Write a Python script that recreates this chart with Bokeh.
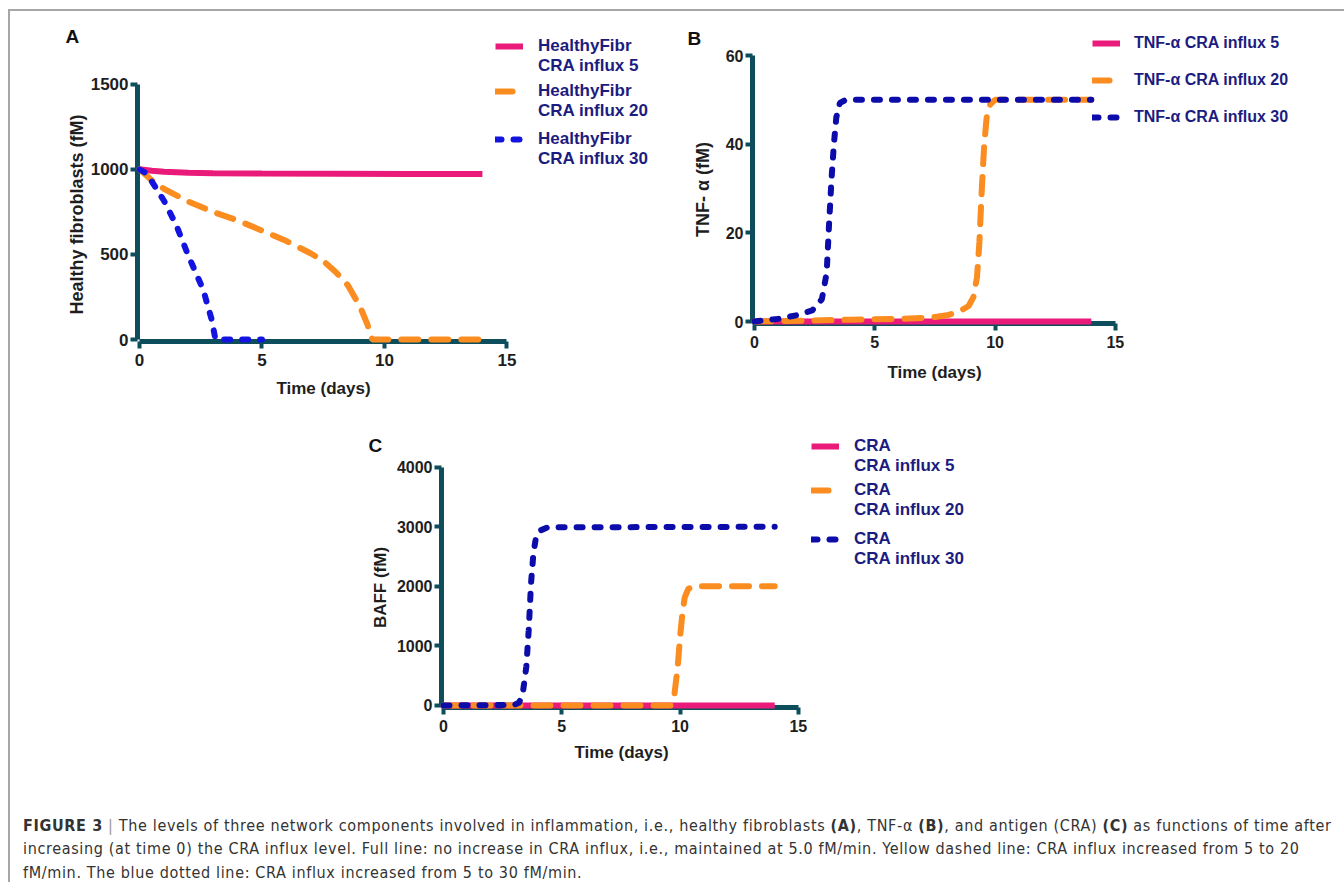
import math
from bokeh.plotting import figure
from bokeh.models import Legend, LegendItem, Label, Div, Spacer, FixedTicker, Range1d
from bokeh.layouts import column, row
from bokeh.embed import file_html
from bokeh.resources import INLINE

# ---------------- data ----------------
x_ticks = [0, 5, 10, 15]
x_label = "Time (days)"

# Panel A: healthy fibroblasts (fM)
a_t_5 = [0, 0.5, 1, 2, 3, 5, 8, 11, 14]
a_v_5 = [1000, 992, 986, 980, 977, 975, 974, 973, 973]
a_t_20 = [0, 0.5, 1, 2, 3, 4, 5, 6, 7, 7.5, 8, 8.5, 9, 9.3, 9.5, 10, 14]
a_v_20 = [1000, 935, 885, 810, 750, 700, 640, 578, 505, 462, 398, 320, 195, 90, 0, 0, 0]
a_t_30 = [0, 0.3, 1, 1.5, 2, 2.6, 2.95, 3.1, 5]
a_v_30 = [1000, 975, 815, 672, 490, 293, 115, 0, 0]
a_y_ticks = [0, 500, 1000, 1500]
a_y_label = "Healthy fibroblasts (fM)"
a_labels = ["HealthyFibr\nCRA influx 5", "HealthyFibr\nCRA influx 20", "HealthyFibr\nCRA influx 30"]

# Panel B: TNF-alpha (fM)
b_t_5 = [0, 14]
b_v_5 = [0, 0]
b_t_20 = [0, 2, 4, 6, 7, 7.5, 8, 8.5, 8.9, 9.1, 9.25, 9.35, 9.45, 9.55, 9.65, 9.8, 10, 14]
b_v_20 = [0, 0.2, 0.4, 0.6, 0.8, 1.0, 1.4, 2.2, 3.5, 5.5, 10, 18, 30, 40, 46, 49, 50, 50]
b_t_30 = [0, 1, 1.75, 2.4, 2.8, 3.0, 3.1, 3.2, 3.3, 3.4, 3.55, 3.8, 14]
b_v_30 = [0, 0.6, 1.4, 2.5, 5, 11, 22, 32, 40, 46, 49.3, 50, 50]
b_y_ticks = [0, 20, 40, 60]
b_y_label = "TNF- \u03b1 (fM)"
b_labels = ["TNF-\u03b1 CRA influx 5", "TNF-\u03b1 CRA influx 20", "TNF-\u03b1 CRA influx 30"]

# Panel C: BAFF (fM)
c_t_5 = [0, 14]
c_v_5 = [0, 0]
c_t_20 = [0, 9.6, 9.75, 9.9, 10.0, 10.1, 10.2, 10.35, 10.6, 14]
c_v_20 = [0, 0, 150, 650, 1150, 1550, 1820, 1960, 2000, 2000]
c_t_30 = [0, 3.0, 3.2, 3.35, 3.5, 3.6, 3.7, 3.8, 3.9, 4.05, 4.4, 14]
c_v_30 = [0, 10, 50, 200, 650, 1250, 2050, 2550, 2800, 2930, 2990, 3000]
c_y_ticks = [0, 1000, 2000, 3000, 4000]
c_y_label = "BAFF (fM)"
c_labels = ["CRA\nCRA influx 5", "CRA\nCRA influx 20", "CRA\nCRA influx 30"]

# ---------------- style ----------------
AX = "#0e4e5c"
PINK = "#ea1a7b"
ORANGE = "#fb8c1f"
BLUE_A = "#1414e0"
BLUE_BC = "#0c0cab"
NAVY = "#1c1c80"
TXT = "#1e1e1e"
FONT = "Liberation Sans"


def legend_kw(size, standoff):
    return dict(glyph_width=28, glyph_height=20, label_standoff=standoff, padding=0, margin=0,
                border_line_color=None, background_fill_alpha=0, label_text_font=FONT,
                label_text_font_style="bold", label_text_font_size=size,
                label_text_color=NAVY, label_text_line_height=1.2)


def make_panel(series, blue, origin, xr, yr, y_max, y_ticks, y_label, fw, fh, mb, legend_labels,
               legend_locs, legend_spacing, legend_size, legend_standoff, letter, text_pos,
               tick_size, xlabel_size, ylabel_size):
    p = figure(frame_width=fw, frame_height=fh,
               x_range=Range1d(*xr), y_range=Range1d(*yr),
               min_border_left=mb[0], min_border_right=mb[1],
               min_border_top=mb[2], min_border_bottom=mb[3],
               output_backend="svg", toolbar_location=None)
    p.outline_line_color = None
    p.grid.visible = False

    # page pixel -> data helpers (for placing the text annotations)
    sx = fw / (xr[1] - xr[0])
    sy = fh / (yr[1] - yr[0])
    fl = origin[0] + mb[0]
    fb = origin[1] + mb[2] + fh

    def dx(px):
        return xr[0] + (px - fl) / sx

    def dy(py):
        return yr[0] + (fb - py) / sy

    p.xaxis.bounds = (0, 15)
    p.yaxis.bounds = (0, y_max)
    p.xaxis.ticker = FixedTicker(ticks=x_ticks)
    p.yaxis.ticker = FixedTicker(ticks=y_ticks)
    for ax in (p.xaxis[0], p.yaxis[0]):
        ax.axis_line_color = AX
        ax.axis_line_width = 5
        ax.major_tick_line_color = AX
        ax.major_tick_line_width = 4
        ax.major_tick_out = 7
        ax.major_tick_in = 0
        ax.minor_tick_line_color = None
        ax.major_label_text_font = FONT
        ax.major_label_text_font_style = "bold"
        ax.major_label_text_font_size = tick_size
        ax.major_label_text_color = TXT
    p.xaxis.major_label_standoff = 5
    p.yaxis.major_label_standoff = 2

    (t5, v5), (t20, v20), (t30, v30) = series
    r5 = p.line(t5, v5, line_color=PINK, line_width=6)
    r20 = p.line(t20, v20, line_color=ORANGE, line_width=6, line_dash="17 13", line_cap="round")
    r30 = p.line(t30, v30, line_color=blue, line_width=6, line_dash="6 12", line_cap="round")
    rends = [r5, r20, r30]
    for r in rends:
        r.level = "overlay"

    if isinstance(legend_locs, list):
        # one legend per entry; two-line labels get an empty leading line so that the
        # glyph sits beside the first text line, as in the reference
        for lab, r, loc in zip(legend_labels, rends, legend_locs):
            p.add_layout(Legend(items=[LegendItem(label="\n" + lab, renderers=[r])],
                                location=loc, **legend_kw(legend_size, legend_standoff)))
    else:
        p.add_layout(Legend(items=[LegendItem(label=lab, renderers=[r])
                                   for lab, r in zip(legend_labels, rends)],
                            location=legend_locs, spacing=legend_spacing,
                            **legend_kw(legend_size, legend_standoff)))

    (lx, ly), (xlx, xly), (ylx, yly) = text_pos
    p.add_layout(Label(x=dx(lx), y=dy(ly), text=letter, text_font=FONT, text_font_style="bold",
                       text_font_size="19px", text_color="#111111", text_baseline="middle",
                       text_align="left"), "left")
    p.add_layout(Label(x=dx(xlx), y=dy(xly), text=x_label, text_font=FONT, text_font_style="bold",
                       text_font_size=xlabel_size, text_color=TXT, text_baseline="middle",
                       text_align="center"), "below")
    p.add_layout(Label(x=dx(ylx), y=dy(yly), text=y_label, angle=math.pi / 2, text_font=FONT,
                       text_font_style="bold", text_font_size=ylabel_size, text_color=TXT,
                       text_baseline="middle", text_align="center"), "left")
    return p


# geometry: page origin, (x range), (y range), frame w/h, borders (left, right, top, bottom)
# text_pos (page px from the reference): letter (left, middle), x label centre, y label centre
pA = make_panel([(a_t_5, a_v_5), (a_t_20, a_v_20), (a_t_30, a_v_30)], BLUE_A, (10, 11),
                (-0.0817, 21.27), (-11.75, 1927), 1500, a_y_ticks, a_y_label,
                523, 330, (127, 20, 0, 80), a_labels, [(358, 265), (358, 220), (358, 172)], 0,
                "17px", 15, "A", ((65, 35.5), (323, 388), (76, 214)), "17px", "17px", "18px")
pB = make_panel([(b_t_5, b_v_5), (b_t_20, b_v_20), (b_t_30, b_v_30)], BLUE_BC, (680, 11),
                (-0.0832, 24.36), (-0.451, 69.93), 60, b_y_ticks, b_y_label,
                588, 312, (72, 4, 0, 98), b_labels, (340, 196), 17, "16px", 14, "B",
                ((687, 37.5), (934, 372), (702, 189)), "16px", "17px", "18px")
pC = make_panel([(c_t_5, c_v_5), (c_t_20, c_v_20), (c_t_30, c_v_30)], BLUE_BC, (360, 421),
                (-0.0845, 22.53), (-33.6, 4766.6), 4000, c_y_ticks, c_y_label,
                535, 286, (80, 369, 0, 82), c_labels, [(370, 231), (370, 187), (370, 138)], 0,
                "17px", 15, "C", ((367, 445), (620, 752), (379, 587)), "16px", "17px", "17px")

caption_html = (
    "<div style=\"font-family:'Liberation Sans Narrow','DejaVu Sans Condensed','Liberation Sans',sans-serif;"
    "font-size:16px;letter-spacing:0.65px;line-height:23.5px;color:#333333;white-space:nowrap;"
    "padding:19.5px 0 0 8px;\">"
    "<b>FIGURE 3</b> <span style='color:#9a9a9a'>|</span> The levels of three network components involved in "
    "inflammation, i.e., healthy fibroblasts <b>(A)</b>, TNF-\u03b1 <b>(B)</b>, and antigen (CRA) <b>(C)</b> "
    "as functions of time after<br>"
    "increasing (at time 0) the CRA influx level. Full line: no increase in CRA influx, i.e., maintained at "
    "5.0 fM/min. Yellow dashed line: CRA influx increased from 5 to 20<br>"
    "fM/min. The blue dotted line: CRA influx increased from 5 to 30 fM/min."
    "</div>"
)
cap = Div(text=caption_html, width=1334, height=92)

root = column(row(pA, pB), row(Spacer(width=350, height=368), pC), cap,
              margin=(9, 0, 0, 8),
              styles={"border-top": "2px solid #a6a6a6", "border-left": "2px solid #a6a6a6"})

open("out.html", "w").write(file_html(root, INLINE))
